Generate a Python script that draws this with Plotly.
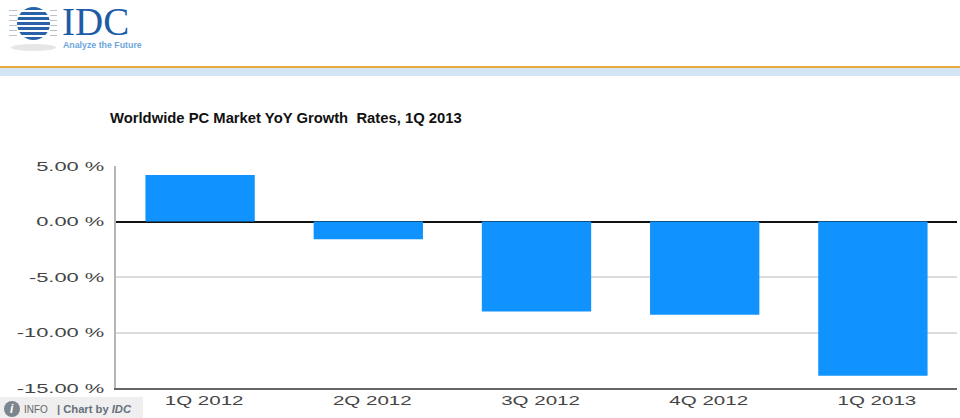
"""IDC - croissance annuelle du marche PC, 1Q 2013."""

import plotly.graph_objects as go

W, H = 960, 418
M_L, M_R, M_T, M_B = 116, 3, 166, 30

QUARTERS = ["1Q 2012", "2Q 2012", "3Q 2012", "4Q 2012", "1Q 2013"]
GROWTH = [4.2, -1.6, -8.1, -8.4, -13.9]
Y_TICKS = [5, 0, -5, -10, -15]
Y_LABELS = ["5.00 %", "0.00 %", "-5.00 %", "-10.00 %", "-15.00 %"]

TITLE = "Worldwide PC Market YoY Growth  Rates, 1Q 2013"
BAR_COLOR = "#1193ff"
LOGO_BLUE = "#1d5ca6"
TICK_FONT = dict(family="Liberation Sans", size=13.5, color="#444444")


def px(x):
    return (x - M_L) / (W - M_L - M_R)


def py(y):
    return 1 - (y - M_T) / (H - M_T - M_B)


def box(x0, y0, x1, y1, color, kind="rect"):
    return dict(type=kind, xref="paper", yref="paper", x0=px(x0), x1=px(x1), y0=py(y0), y1=py(y1),
                fillcolor=color, line=dict(width=0), layer="above")


def label(x, y, text, size, color, family="Liberation Sans", anchor="left"):
    return dict(xref="paper", yref="paper", x=px(x), y=py(y), text=text, showarrow=False,
                xanchor=anchor, yanchor="middle", align="left", borderpad=0,
                font=dict(family=family, size=size, color=color))


shapes = [
    box(0, 66, 960, 68, "#e8aa3c"),
    box(0, 68, 960, 76, "#d3e5f5"),
    box(11, 44, 56, 51, "#e6e6e6", "circle"),
    box(17, 7, 50, 40, "#2a62a8", "circle"),
    box(0, 397, 143, 418, "#efefef"),
    box(4, 401, 20, 417, "#7d858f", "circle"),
]
# rayures du globe
for y0 in [10, 15, 20, 25, 30, 35]:
    shapes.append(box(9, y0, 57, y0 + 2, "#ffffff"))
    shapes.append(box(9, y0, 17, y0 + 1, "#b9c2cd"))
    shapes.append(box(50, y0, 57, y0 + 1, "#b9c2cd"))

annotations = [
    label(61, 21, "IDC", 39, LOGO_BLUE, "Liberation Serif"),
    label(62, 45, "<b>Analyze the Future</b>", 8.8, "#6ea6dc"),
    label(12, 409, "<b><i>i</i></b>", 12, "#ffffff", anchor="center"),
    label(23, 409, "INFO", 10, "#666666"),
    label(56, 409, "<b>| Chart by <i>IDC</i></b>", 11.2, "#66707c"),
]

fig = go.Figure(
    go.Bar(x=QUARTERS, y=GROWTH, marker=dict(color=BAR_COLOR, line=dict(width=0)), showlegend=False)
)

fig.update_layout(
    width=W,
    height=H,
    margin=dict(l=M_L, r=M_R, t=M_T, b=M_B, autoexpand=False),
    paper_bgcolor="white",
    plot_bgcolor="white",
    bargap=0.35,
    title=dict(
        text=TITLE,
        x=110 / W,
        xanchor="left",
        xref="container",
        y=1 - 118 / H,
        yanchor="middle",
        yref="container",
        font=dict(family="Liberation Sans", size=14.8, color="#111111", weight="bold"),
    ),
    shapes=shapes,
    annotations=annotations,
)

fig.update_xaxes(
    showgrid=False,
    showline=True,
    linecolor="#666666",
    linewidth=2,
    ticks="",
    tickfont=TICK_FONT,
)
fig.update_yaxes(
    range=[-15, 5],
    tickvals=Y_TICKS,
    ticktext=Y_LABELS,
    tickfont=TICK_FONT,
    ticks="outside",
    ticklen=7,
    tickcolor="rgba(0,0,0,0)",
    showgrid=True,
    gridcolor="#dcdcdc",
    gridwidth=1.5,
    showline=True,
    linecolor="#b5b5b5",
    linewidth=2,
    zeroline=True,
    zerolinecolor="#111111",
    zerolinewidth=1.5,
)

# le navigateur ajoute une marge au body, et les libelles d'origine sont etires en largeur
POST = """
document.body.style.margin = '0';
function stretch(sel, k) {
  document.querySelectorAll(sel).forEach(function (t) {
    t.setAttribute('lengthAdjust', 'spacingAndGlyphs');
    t.setAttribute('textLength', t.getComputedTextLength() * k);
  });
}
stretch('.ytick text', 1.62);
stretch('.xtick text', 1.52);
document.querySelectorAll('.xtick text').forEach(function (t) {
  t.setAttribute('x', parseFloat(t.getAttribute('x')) + 4);
  t.setAttribute('y', parseFloat(t.getAttribute('y')) - 1);
});
"""

fig.write_html("out.html", post_script=POST, config=dict(displayModeBar=False))
